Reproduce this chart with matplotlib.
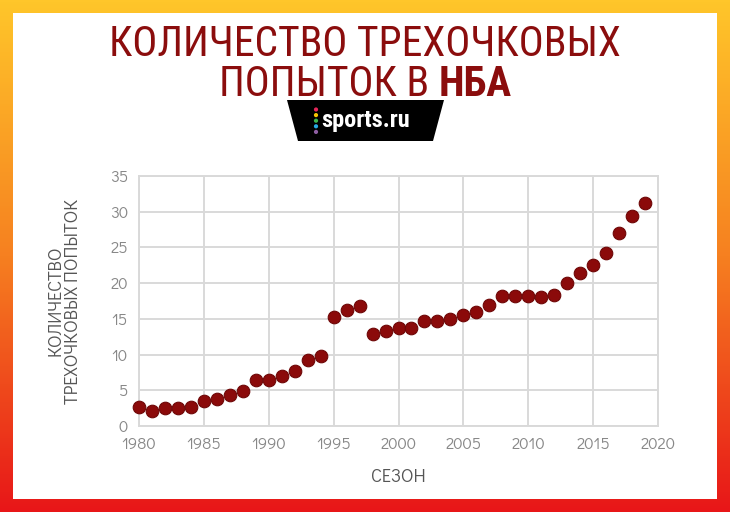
import numpy as np
import matplotlib
matplotlib.use("Agg")
import matplotlib.pyplot as plt
from matplotlib.patches import Polygon, Rectangle, Circle

# Количество трехочковых попыток в НБА по сезонам
seasons = list(range(1980, 2020))
attempts = [2.7, 2.1, 2.5, 2.5, 2.6, 3.5, 3.8, 4.4, 4.9, 6.5,
            6.5, 7.0, 7.7, 9.3, 9.8, 15.3, 16.2, 16.8, 12.9, 13.3,
            13.7, 13.7, 14.7, 14.7, 15.0, 15.6, 16.0, 16.9, 18.2, 18.2,
            18.2, 18.1, 18.4, 20.0, 21.4, 22.5, 24.2, 27.0, 29.4, 31.2]
x_ticks = [1980, 1985, 1990, 1995, 2000, 2005, 2010, 2015, 2020]
y_ticks = [0, 5, 10, 15, 20, 25, 30, 35]

title_line1 = "КОЛИЧЕСТВО ТРЕХОЧКОВЫХ"
title_line2a = "ПОПЫТОК В "
title_line2b = "НБА"
x_label = "СЕЗОН"
y_label = "КОЛИЧЕСТВО\nТРЕХОЧКОВЫХ ПОПЫТОК"

W, H = 730, 512
fig = plt.figure(figsize=(W / 100, H / 100), dpi=100)

# фон: градиентная рамка и белая карточка
bg = fig.add_axes([0, 0, 1, 1])
bg.set_axis_off()
top = np.array([255, 198, 42]) / 255
mid = np.array([246, 128, 32]) / 255
bot = np.array([232, 22, 24]) / 255
t = np.linspace(0, 1, 256)[:, None]
grad = np.where(t < 0.5, top + (mid - top) * (t / 0.5), mid + (bot - mid) * ((t - 0.5) / 0.5))
bg.imshow(grad[:, None, :].repeat(2, axis=1), aspect="auto", extent=[0, W, H, 0])
bg.set_xlim(0, W)
bg.set_ylim(H, 0)
bg.add_patch(Rectangle((13, 13), 704, 486, facecolor="white", edgecolor="none"))

# логотип
bg.add_patch(Polygon([[287, 100], [444, 100], [433, 141], [298, 141]],
                     closed=True, facecolor="black", edgecolor="none"))
for i, c in enumerate(["#e5265a", "#f5c400", "#3cb54a", "#27a9e1", "#8e5ea2"]):
    bg.add_patch(Circle((316, 109.5 + i * 5.6), 2.1, facecolor=c, edgecolor="none"))
bg.text(321, 127, "sports.ru", color="white", fontsize=17.5, fontweight="bold",
        family="Roboto Condensed", ha="left", va="baseline")

# заголовок
red = "#8b0d0d"
tfont = "Roboto Condensed"
bg.text(W / 2, 56, title_line1, color=red, fontsize=30, family=tfont,
        ha="center", va="baseline")
fig.canvas.draw()
r = fig.canvas.get_renderer()
ta = bg.text(0, 96, title_line2a, color=red, fontsize=30, family=tfont,
             ha="left", va="baseline")
tb = bg.text(0, 96, title_line2b, color=red, fontsize=30, family=tfont,
             fontweight="bold", ha="left", va="baseline")
wa = ta.get_window_extent(r).width
wb = tb.get_window_extent(r).width
x0 = W / 2 - (wa + wb) / 2
ta.set_x(x0)
tb.set_x(x0 + wa)

# график
ax = fig.add_axes([139 / W, 1 - 426 / H, (658 - 139) / W, (426 - 176) / H])
ax.scatter(seasons, attempts, s=82, color="#8b0a0a", edgecolors="#6e0606",
           linewidths=0.8, zorder=3, clip_on=False)
ax.set_xlim(1980, 2020)
ax.set_ylim(0, 35)
ax.set_xticks(x_ticks)
ax.set_yticks(y_ticks)
ax.grid(True, color="#d9d9d9", linewidth=1.4)
for s in ax.spines.values():
    s.set_color("#d9d9d9")
    s.set_linewidth(1.4)
ax.tick_params(length=0, colors="#888888", labelsize=12, pad=8)
for lab in ax.get_xticklabels() + ax.get_yticklabels():
    lab.set_family("Didact Gothic")
ax.set_xlabel(x_label, color="#555555", fontsize=13, family="Didact Gothic", labelpad=12)
ax.set_ylabel(y_label, color="#555555", fontsize=13, family="Didact Gothic", labelpad=20,
              linespacing=1.0)

fig.savefig("out.png", dpi=100)
